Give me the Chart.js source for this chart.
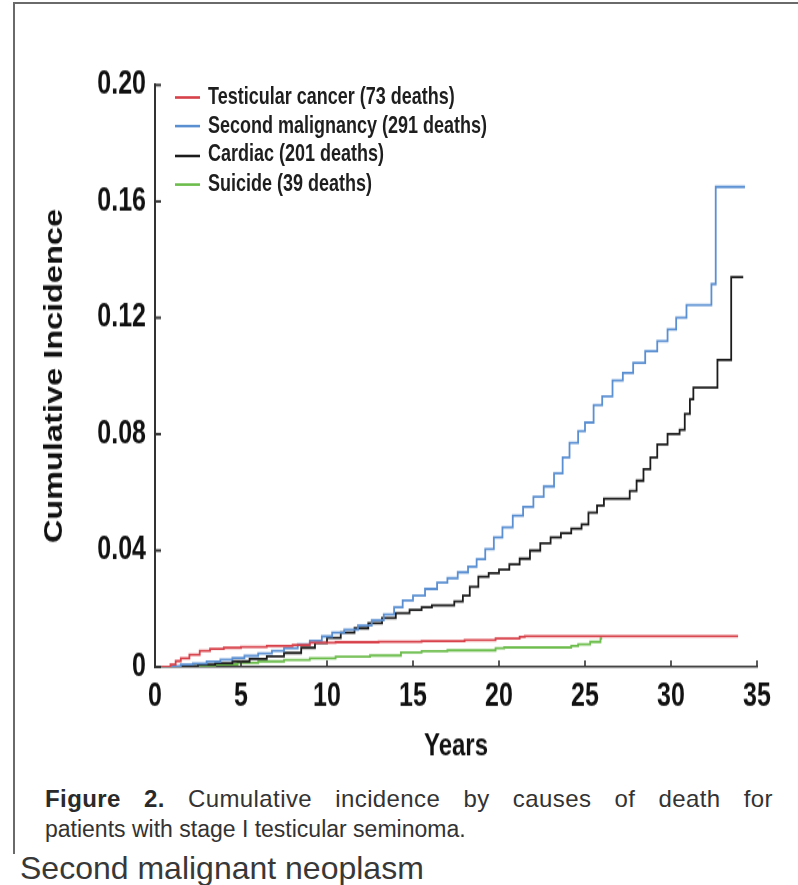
<!DOCTYPE html>
<html>
<head>
<meta charset="utf-8">
<script src="https://cdn.jsdelivr.net/npm/chart.js@4/dist/chart.umd.min.js"></script>
<style>
  html, body { margin: 0; padding: 0; background: #fff; }
  body { width: 798px; height: 885px; position: relative; overflow: hidden; font-family: "Liberation Sans", Arial, sans-serif; }
  .frame-top { position: absolute; left: 13px; top: 2px; width: 785px; height: 2px; background: #6a6a6a; }
  .frame-left { position: absolute; left: 13px; top: 2px; width: 2px; height: 852px; background: #6a6a6a; }
  /* the source figure is stretched vertically, so the plot is drawn then scaled */
  #plot { position: absolute; left: 0; top: 0; width: 798px; height: 600px; transform: scaleY(1.3); transform-origin: 0 0; }
  #legend { position: absolute; left: 175px; top: 62.8px; font: bold 18px "Liberation Sans", Arial, sans-serif; color: #1e1e1e; }
  #legend .row { height: 22.3px; line-height: 22.3px; white-space: nowrap; }
  #legend .sw { display: inline-block; width: 25px; height: 2px; vertical-align: middle; margin-right: 8px; }
  .cap { position: absolute; left: 45px; color: #333; font-size: 23px; line-height: 31px; white-space: nowrap; }
  .cap b { color: #2a2a2a; }
  .cap1 { top: 783px; width: 728px; text-align: justify; text-align-last: justify; font-size: 24px; letter-spacing: 0.4px; }
  .cap2 { top: 814px; }
  .tail { position: absolute; left: 20px; top: 850px; font-size: 32px; line-height: 36px; color: #383838; white-space: nowrap; }
</style>
</head>
<body>
<div class="frame-top"></div>
<div class="frame-left"></div>

<div id="plot">
  <canvas id="chart" width="798" height="600"></canvas>
  <div id="legend"></div>
</div>

<div class="cap cap1"><b>Figure 2.</b> Cumulative incidence by causes of death for</div>
<div class="cap cap2">patients with stage I testicular seminoma.</div>
<div class="tail">Second malignant neoplasm</div>

<script>
  // ----- data (years since diagnosis, cumulative incidence after each step) -----
  const xTicks = [0, 5, 10, 15, 20, 25, 30, 35];
  const yTicks = [0, 0.04, 0.08, 0.12, 0.16, 0.20];

  const testicularT = [0, 0.9, 1.2, 1.5, 2.0, 2.6, 3.2, 4.0, 5.0, 6.5, 8.0, 9.0, 10.5, 13.0, 15.5, 18.0, 19.8, 21.2, 21.5, 33.9];
  const testicularV = [0, 0.0008, 0.0020, 0.0030, 0.0042, 0.0055, 0.0062, 0.0066, 0.0069, 0.0072, 0.0075, 0.0083, 0.0085, 0.0087, 0.0089, 0.0092, 0.0098, 0.0103, 0.0106, 0.0106];

  const secondT = [0, 1.0, 1.5, 2.2, 3.0, 3.8, 4.5, 5.2, 6.0, 6.8, 7.5, 8.3, 9.0, 9.7, 10.3, 11.0, 11.8, 12.6, 13.3, 13.9, 14.4, 15.0, 15.7, 16.4, 17.0, 17.6, 18.2, 18.7, 19.2, 19.7, 20.2, 20.8, 21.4, 22.0, 22.6, 23.2, 23.7, 24.1, 24.6, 25.0, 25.5, 26.0, 26.6, 27.2, 27.8, 28.5, 29.2, 29.8, 30.3, 30.9, 32.35, 32.6, 34.3];
  const secondV = [0, 0.0003, 0.0008, 0.0012, 0.0018, 0.0025, 0.0031, 0.0038, 0.0046, 0.0055, 0.0064, 0.0078, 0.0090, 0.0105, 0.0118, 0.0128, 0.0142, 0.0160, 0.0180, 0.0205, 0.0228, 0.0245, 0.0268, 0.0290, 0.0305, 0.0325, 0.0345, 0.0370, 0.0405, 0.0445, 0.0480, 0.0520, 0.0550, 0.0585, 0.0620, 0.0665, 0.0720, 0.0770, 0.0810, 0.0840, 0.0900, 0.0930, 0.0985, 0.1010, 0.1045, 0.1085, 0.1120, 0.1160, 0.1200, 0.1244, 0.1316, 0.1650, 0.1650];

  const cardiacT = [0, 1.5, 2.5, 3.5, 4.5, 5.5, 6.5, 7.5, 8.5, 9.3, 10.0, 10.8, 11.6, 12.4, 13.2, 14.0, 14.8, 15.5, 16.1, 17.4, 17.9, 18.3, 18.8, 19.4, 20.0, 20.6, 21.2, 21.8, 22.4, 23.0, 23.6, 24.2, 24.8, 25.2, 25.7, 26.1, 27.6, 28.0, 28.4, 28.8, 29.2, 29.8, 30.5, 30.8, 31.1, 31.3, 32.7, 33.5, 34.2];
  const cardiacV = [0, 0.0003, 0.0008, 0.0013, 0.0019, 0.0027, 0.0036, 0.0048, 0.0066, 0.0082, 0.0100, 0.0118, 0.0133, 0.0150, 0.0168, 0.0185, 0.0196, 0.0205, 0.0212, 0.0225, 0.0245, 0.0275, 0.0310, 0.0322, 0.0335, 0.0352, 0.0372, 0.0400, 0.0425, 0.0445, 0.0460, 0.0475, 0.0490, 0.0530, 0.0555, 0.0578, 0.0605, 0.0640, 0.0680, 0.0720, 0.0765, 0.0800, 0.0815, 0.0870, 0.0920, 0.0960, 0.1055, 0.1340, 0.1340];

  const suicideT = [0, 1.5, 2.5, 3.5, 4.8, 6.0, 7.5, 9.0, 10.5, 12.5, 14.3, 15.5, 17.0, 19.8, 20.3, 24.2, 24.6, 25.3, 25.9, 26.0];
  const suicideV = [0, 0.0002, 0.0005, 0.0009, 0.0014, 0.0019, 0.0024, 0.0030, 0.0035, 0.0039, 0.0050, 0.0054, 0.0057, 0.0064, 0.0067, 0.0072, 0.0078, 0.0086, 0.0098, 0.0098];

  const series = [
    { label: 'Testicular cancer (73 deaths)',    t: testicularT, v: testicularV, color: '#d8404a' },
    { label: 'Second malignancy (291 deaths)',  t: secondT,     v: secondV,     color: '#5a8fd2' },
    { label: 'Cardiac (201 deaths)',            t: cardiacT,    v: cardiacV,    color: '#1c1c1c' },
    { label: 'Suicide (39 deaths)',             t: suicideT,    v: suicideV,    color: '#6cbd4c' }
  ];

  const FONT = '"Liberation Sans", Arial, sans-serif';
  const AXIS = '#333';

  // inward tick marks (Chart.js only draws them outward)
  const innerTicks = {
    id: 'innerTicks',
    afterDraw(chart) {
      const { ctx, chartArea: a, scales: { x, y } } = chart;
      ctx.save();
      ctx.strokeStyle = AXIS;
      ctx.lineWidth = 1.6;
      xTicks.forEach((v) => {
        const px = x.getPixelForValue(v);
        ctx.beginPath(); ctx.moveTo(px, a.bottom); ctx.lineTo(px, a.bottom - 5); ctx.stroke();
      });
      ctx.lineWidth = 2;
      yTicks.forEach((v) => {
        const py = y.getPixelForValue(v);
        ctx.beginPath(); ctx.moveTo(a.left, py); ctx.lineTo(a.left + 6, py); ctx.stroke();
      });
      ctx.restore();
    }
  };

  new Chart(document.getElementById('chart').getContext('2d'), {
    type: 'line',
    data: {
      datasets: series.map((s) => ({
        label: s.label,
        data: s.t.map((t, i) => ({ x: t, y: s.v[i] })),
        borderColor: s.color,
        backgroundColor: s.color,
        borderWidth: 1.8,
        pointRadius: 0,
        stepped: 'before',
        fill: false
      }))
    },
    options: {
      responsive: false,
      animation: false,
      layout: { padding: { left: 0, right: 41, top: 65.4, bottom: 7 } },
      plugins: { legend: { display: false }, tooltip: { enabled: false } },
      scales: {
        x: {
          type: 'linear', min: 0, max: 35,
          afterBuildTicks: (s) => { s.ticks = xTicks.map((v) => ({ value: v })); },
          afterFit: (s) => { s.height = 80; },
          ticks: { color: '#111', padding: 8, font: { family: FONT, size: 25, weight: 'bold' } },
          grid: { drawOnChartArea: false, drawTicks: false },
          border: { display: true, color: AXIS, width: 1.6 },
          title: { display: true, text: 'Years', color: '#111', padding: { top: 0, bottom: 4.6 },
                   font: { family: FONT, size: 24, weight: 'bold' } }
        },
        y: {
          min: 0, max: 0.2,
          afterBuildTicks: (s) => { s.ticks = yTicks.map((v) => ({ value: v })); },
          afterFit: (s) => { s.width = 155; },
          ticks: { color: '#111', padding: 9, font: { family: FONT, size: 25, weight: 'bold' },
                   callback: (v) => (v === 0 ? '0' : v.toFixed(2)) },
          grid: { drawOnChartArea: false, drawTicks: false },
          border: { display: true, color: AXIS, width: 2 },
          title: { display: true, text: 'Cumulative Incidence', color: '#111', padding: { top: 40, bottom: 0 },
                   font: { family: FONT, size: 25, weight: 'bold' } }
        }
      }
    },
    plugins: [innerTicks]
  });

  // legend sits inside the plot, top-left
  const legend = document.getElementById('legend');
  legend.innerHTML = series.map((s) =>
    `<div class="row"><span class="sw" style="background:${s.color}"></span>${s.label}</div>`
  ).join('');
</script>
</body>
</html>
